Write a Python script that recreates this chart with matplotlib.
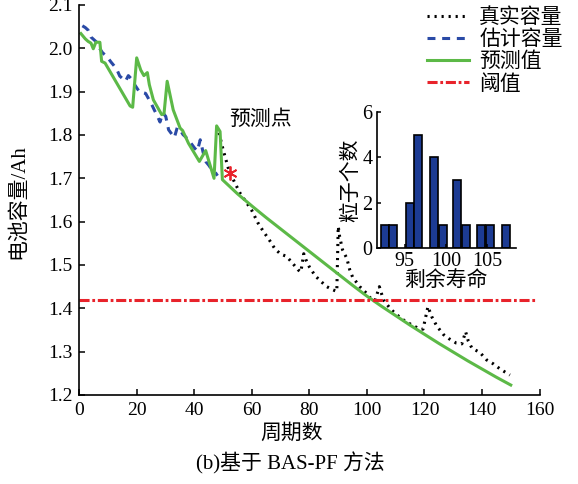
"""BAS-PF capacity prediction chart with RUL histogram inset."""
import matplotlib
matplotlib.use('Agg')
import matplotlib.pyplot as plt

plt.rcParams['font.family'] = ['Liberation Serif', 'Noto Sans CJK SC', 'DejaVu Sans']
plt.rcParams['axes.unicode_minus'] = False

# true capacity (only visible from the prediction start)
true_cycle = [48.5, 50, 52, 54, 56, 58, 60, 62, 64, 66, 68, 70, 72, 74, 76, 77, 78,
              79, 80, 82, 84, 86, 88, 89.5, 90, 90.5, 91.5, 93, 94, 95, 97.5, 99.8,
              101, 102.8, 104.3, 105.7, 108, 110, 112.5, 115.5, 118.4, 119.5, 121.2,
              122.5, 124.2, 126.5, 128.5, 131, 133, 134.3, 135.2, 136.5, 139.3, 141.6,
              143.9, 146.3, 149.7]
true_cap = [1.805, 1.765, 1.718, 1.690, 1.664, 1.645, 1.625, 1.598, 1.577, 1.558, 1.537,
            1.525, 1.520, 1.505, 1.489, 1.484, 1.526, 1.508, 1.495, 1.475, 1.462, 1.450,
            1.443, 1.439, 1.589, 1.565, 1.535, 1.515, 1.489, 1.472, 1.450, 1.435, 1.425,
            1.418, 1.450, 1.420, 1.400, 1.387, 1.374, 1.362, 1.352, 1.352, 1.404, 1.381,
            1.360, 1.340, 1.330, 1.320, 1.318, 1.346, 1.325, 1.308, 1.298, 1.281, 1.272,
            1.260, 1.246]

# estimated capacity
est_cycle = list(range(1, 49))
est_cap = [2.052, 2.048, 2.042, 2.026, 2.020, 2.014, 2.000, 1.990, 1.984, 1.977, 1.968,
           1.960, 1.951, 1.936, 1.930, 1.924, 1.937, 1.930, 1.918, 1.908, 1.898, 1.898,
           1.896, 1.884, 1.872, 1.858, 1.845, 1.830, 1.851, 1.843, 1.812, 1.803, 1.794,
           1.817, 1.812, 1.801, 1.795, 1.787, 1.779, 1.770, 1.763, 1.789, 1.760, 1.738,
           1.730, 1.720, 1.716, 1.706]

# predicted capacity
pred_cycle = [0.5, 2, 3, 4, 4.8, 5.7, 7.1, 7.7, 8.9, 17.6, 18.5, 19.9, 21.3, 22.4, 23.6,
              24.3, 25.7, 28.6, 29.4, 30.5, 32.6, 35, 35.9, 37.9, 41.7, 43.9, 46.8, 47.7,
              48.9, 49.7, 55, 60, 65, 70, 75, 80, 85, 90, 95, 100, 105, 110, 115, 120,
              125, 130, 135, 140, 145, 150]
pred_cap = [2.034, 2.022, 2.016, 2.012, 1.999, 2.014, 2.014, 1.970, 1.966, 1.867, 1.864,
            1.978, 1.950, 1.937, 1.944, 1.916, 1.881, 1.847, 1.849, 1.924, 1.858, 1.816,
            1.810, 1.781, 1.739, 1.764, 1.700, 1.821, 1.808, 1.697, 1.664, 1.636, 1.609,
            1.583, 1.557, 1.531, 1.505, 1.479, 1.453, 1.428, 1.405, 1.383, 1.361, 1.340,
            1.319, 1.299, 1.279, 1.260, 1.241, 1.223]

threshold = 1.419
start_cycle, start_cap = 52.3, 1.713

# RUL histogram
rul_bins = [92.6, 93.6, 95.6, 96.6, 98.6, 99.6, 101.4, 102.4, 104.3, 105.3, 107.3]
rul_counts = [1, 1, 2, 5, 4, 1, 3, 1, 1, 1, 1]

c_true = 'black'
c_est = '#2a4aa6'
c_pred = '#5cb947'
c_thr = '#e8232b'

fig = plt.figure(figsize=(5.78, 4.84), dpi=100)
ax = fig.add_axes([0.1375, 0.1839, 0.7959, 0.8058])

ax.plot(true_cycle, true_cap, color=c_true, lw=2.2, linestyle=(0, (0.7, 1.6)),
        label='真实容量')
ax.plot(est_cycle, est_cap, color=c_est, lw=2.2, linestyle=(0, (2.6, 2.2)),
        label='估计容量')
ax.plot(pred_cycle, pred_cap, color=c_pred, lw=2.2, label='预测值')
ax.plot([0, 159], [threshold, threshold], color=c_thr, lw=2.2,
        linestyle=(0, (3.3, 0.9, 0.9, 0.9)), label='阈值')
ax.plot(start_cycle, start_cap, marker=(6, 2, 0), color=c_thr, ms=10, mew=1.3,
        linestyle='none')
ax.text(63, 1.835, '预测点', fontsize=15, ha='center', va='center')

ax.set_xlim(0, 160)
ax.set_ylim(1.2, 2.1)
ax.set_xticks(range(0, 161, 20))
ax.set_yticks([1.2 + 0.1 * i for i in range(10)])
ax.set_yticklabels(['%.1f' % (1.2 + 0.1 * i) for i in range(10)])
for s in ['top', 'right']:
    ax.spines[s].set_visible(False)
for s in ['left', 'bottom']:
    ax.spines[s].set_linewidth(1.2)
ax.tick_params(direction='in', length=4, width=1.1, labelsize=14, pad=5)

ax.legend(loc='upper left', bbox_to_anchor=(0.7388, 0.983), bbox_transform=fig.transFigure,
          frameon=False, fontsize=15, borderpad=0, borderaxespad=0, handlelength=2.0,
          handletextpad=0.5, labelspacing=0.12)

fig.text(0.505, 0.103, '周期数', fontsize=15, ha='center', va='center')
fig.text(0.033, 0.583, '电池容量/Ah', fontsize=15, ha='center', va='center',
         rotation=90)
fig.text(0.502, 0.043, '(b)基于 BAS-PF 方法', fontsize=15, ha='center', va='center')

# inset histogram
ins = fig.add_axes([0.652, 0.4876, 0.2405, 0.281])
ins.bar(rul_bins, rul_counts, width=0.98, color='#1c3b93', edgecolor='black',
        linewidth=1.2)
ins.set_xlim(91.6, 108.5)
ins.set_ylim(0, 6)
ins.set_xticks([95, 100, 105])
ins.set_yticks([0, 2, 4, 6])
for s in ['top', 'right']:
    ins.spines[s].set_visible(False)
for s in ['left', 'bottom']:
    ins.spines[s].set_linewidth(1.2)
ins.patch.set_alpha(0)
ins.tick_params(direction='in', length=3, width=1.1, labelsize=14.5, pad=3)
ins.set_xlabel('剩余寿命', fontsize=15, labelpad=0)
ins.set_ylabel('粒子个数', fontsize=15, labelpad=1)

fig.savefig('out.png', dpi=100)
